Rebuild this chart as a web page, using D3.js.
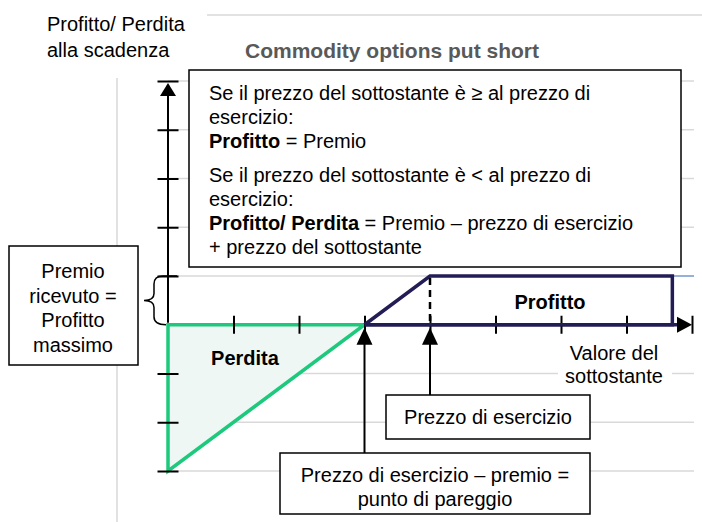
<!DOCTYPE html>
<html>
<head>
<meta charset="utf-8">
<script src="https://cdn.jsdelivr.net/npm/d3@7"></script>
<style>
  body { margin: 0; background: #fff; }
  svg text { font-family: "Liberation Sans", Arial, sans-serif; }
</style>
</head>
<body>
<svg id="chart" width="702" height="522"></svg>
<script>
// payoff of a short put: x = valore del sottostante, y = profitto/perdita
const xTicks = [1, 2, 3, 4, 5, 6, 7, 8]
const yTicks = [-3, -2, -1, 1, 2, 3, 4, 5]
const breakEven = 3
const strike = 4
const premium = 1
const profitShape = [[3, 0], [4, 1], [7.7, 1], [7.7, 0], [3, 0]]
const lossShape = [[0, 0], [3, 0], [0, -3]]

const ruleLines = [
  [{ t: 'Se il prezzo del sottostante è ≥ al prezzo di' }],
  [{ t: 'esercizio:' }],
  [{ t: 'Profitto', b: true }, { t: ' = Premio' }],
  [{ t: 'Se il prezzo del sottostante è < al prezzo di' }],
  [{ t: 'esercizio:' }],
  [{ t: 'Profitto/ Perdita', b: true }, { t: ' = Premio – prezzo di esercizio' }],
  [{ t: '+ prezzo del sottostante' }]
]
const premiumLines = ['Premio', 'ricevuto =', 'Profitto', 'massimo']
const breakEvenLines = ['Prezzo di esercizio – premio =', 'punto di pareggio']

const svg = d3.select('#chart')
const x = d3.scaleLinear().domain([0, 8]).range([168, 692])
const y = d3.scaleLinear().domain([-3, 5]).range([471, 81])
const grid = '#d9d9d9'
const navy = '#221d55'
const green = '#1dc97c'
const fs = 20

// frame lines
svg.append('line').attr('x1', 207).attr('x2', 702).attr('y1', 15).attr('y2', 15)
  .attr('stroke', grid).attr('stroke-width', 1.5)
svg.append('line').attr('x1', 117).attr('x2', 117).attr('y1', 78).attr('y2', 522)
  .attr('stroke', grid).attr('stroke-width', 1.5)

// gridlines
svg.append('g').selectAll('line').data(yTicks).join('line')
  .attr('x1', x(0)).attr('x2', 694)
  .attr('y1', d => y(d)).attr('y2', d => y(d))
  .attr('stroke', grid).attr('stroke-width', 1.5)
svg.append('line').attr('x1', x(7.7)).attr('x2', 694).attr('y1', y(premium)).attr('y2', y(premium))
  .attr('stroke', '#4a7fd0').attr('stroke-width', 1)

// x axis line (navy from break-even on)
svg.append('line').attr('x1', x(breakEven)).attr('x2', x(8) - 8).attr('y1', y(0)).attr('y2', y(0))
  .attr('stroke', navy).attr('stroke-width', 3.5)

// loss triangle
const line = d3.line().x(d => x(d[0])).y(d => y(d[1]))
svg.append('path').attr('d', line(lossShape) + 'Z')
  .attr('fill', '#eef7f3').attr('stroke', green).attr('stroke-width', 3.5)
  .attr('stroke-linejoin', 'miter')

// axes
const xAxis = d3.axisBottom(x).tickValues(xTicks).tickSize(18).tickFormat('')
svg.append('g').attr('transform', `translate(0,${y(0) - 9})`).call(xAxis)
  .call(g => g.select('.domain').remove())
  .selectAll('line').attr('stroke', '#000').attr('stroke-width', 2)
const yAxis = d3.axisLeft(y).tickValues(yTicks).tickSize(21).tickFormat('')
svg.append('g').attr('transform', `translate(${x(0) + 10.5},0)`).call(yAxis)
  .call(g => g.select('.domain').remove())
  .selectAll('line').attr('stroke', '#000').attr('stroke-width', 2)

svg.append('line').attr('x1', x(0)).attr('x2', x(0)).attr('y1', y(5) + 4).attr('y2', y(0) - 2)
  .attr('stroke', '#000').attr('stroke-width', 2)
svg.append('path')
  .attr('d', `M${x(0)},${y(5) + 2} L${x(0) - 8},${y(5) + 15} L${x(0) + 8},${y(5) + 15}Z`)
  .attr('fill', '#000')
svg.append('path')
  .attr('d', `M${x(8)},${y(0)} L${x(8) - 15},${y(0) - 8} L${x(8) - 15},${y(0) + 8}Z`)
  .attr('fill', '#000')

// profit shape
svg.append('path').attr('d', line(profitShape))
  .attr('fill', 'none').attr('stroke', navy).attr('stroke-width', 3.5)
  .attr('stroke-linejoin', 'miter')
svg.append('line').attr('x1', x(strike)).attr('x2', x(strike))
  .attr('y1', y(premium) + 2).attr('y2', y(0))
  .attr('stroke', '#000').attr('stroke-width', 2.5).attr('stroke-dasharray', '7,5')

// rule box
svg.append('rect').attr('x', 189).attr('y', 70).attr('width', 492).attr('height', 197)
  .attr('fill', '#fff').attr('stroke', '#000').attr('stroke-width', 1.5)
const ruleY = [100, 124, 148, 182, 206, 230, 254]
const rt = svg.append('g')
ruleLines.forEach((parts, i) => {
  const t = rt.append('text').attr('x', 209).attr('y', ruleY[i]).attr('font-size', fs)
  parts.forEach(p => t.append('tspan').attr('font-weight', p.b ? 'bold' : null).text(p.t))
})

// premium box and brace
svg.append('rect').attr('x', 9).attr('y', 246).attr('width', 129).attr('height', 119)
  .attr('fill', '#fff').attr('stroke', '#000').attr('stroke-width', 1.5)
svg.append('g').selectAll('text').data(premiumLines).join('text')
  .attr('x', 73).attr('y', (d, i) => 278 + i * 24.5).attr('text-anchor', 'middle')
  .attr('font-size', fs).text(d => d)
const yt = y(premium), y0 = y(0), ym = (yt + y0) / 2
svg.append('path')
  .attr('d', `M${x(0) + 9},${yt} H${x(0) - 5} Q${x(0) - 14},${yt} ${x(0) - 14},${yt + 8} V${ym - 7} Q${x(0) - 14},${ym} ${x(0) - 24},${ym} Q${x(0) - 14},${ym} ${x(0) - 14},${ym + 7} V${y0 - 8} Q${x(0) - 14},${y0} ${x(0) - 2},${y0}`)
  .attr('fill', 'none').attr('stroke', '#000').attr('stroke-width', 1.5)

// area labels
svg.append('text').attr('x', 245).attr('y', 365).attr('text-anchor', 'middle')
  .attr('font-size', 20).attr('font-weight', 'bold').text('Perdita')
svg.append('text').attr('x', 550).attr('y', 309).attr('text-anchor', 'middle')
  .attr('font-size', 20).attr('font-weight', 'bold').text('Profitto')

// x axis label on white
svg.append('rect').attr('x', 558).attr('y', 340).attr('width', 114).attr('height', 48).attr('fill', '#fff')
svg.append('g').selectAll('text').data(['Valore del', 'sottostante']).join('text')
  .attr('x', 614).attr('y', (d, i) => 360 + i * 23).attr('text-anchor', 'middle')
  .attr('font-size', fs).text(d => d)

// pointer arrows
const arrow = (xv, yBottom) => {
  svg.append('line').attr('x1', x(xv)).attr('x2', x(xv)).attr('y1', y(0) + 16).attr('y2', yBottom)
    .attr('stroke', '#000').attr('stroke-width', 2)
  svg.append('path')
    .attr('d', `M${x(xv)},${y(0) + 3} L${x(xv) - 8},${y(0) + 20} L${x(xv) + 8},${y(0) + 20}Z`)
    .attr('fill', '#000')
}
arrow(breakEven, 453)
arrow(strike, 395)

// strike box
svg.append('rect').attr('x', 386).attr('y', 395).attr('width', 204).attr('height', 44)
  .attr('fill', '#fff').attr('stroke', '#000').attr('stroke-width', 1.5)
svg.append('text').attr('x', 488).attr('y', 424).attr('text-anchor', 'middle')
  .attr('font-size', fs).text('Prezzo di esercizio')

// break-even box
svg.append('rect').attr('x', 280).attr('y', 453).attr('width', 310).attr('height', 61)
  .attr('fill', '#fff').attr('stroke', '#000').attr('stroke-width', 1.5)
svg.append('g').selectAll('text').data(breakEvenLines).join('text')
  .attr('x', 435).attr('y', (d, i) => 482 + i * 24).attr('text-anchor', 'middle')
  .attr('font-size', fs).text(d => d)

// titles
svg.append('text').attr('x', 392).attr('y', 58).attr('text-anchor', 'middle')
  .attr('font-size', 21).attr('font-weight', 'bold').attr('fill', '#595959')
  .text('Commodity options put short')
svg.append('g').selectAll('text').data(['Profitto/ Perdita', 'alla scadenza']).join('text')
  .attr('x', 47).attr('y', (d, i) => 31 + i * 26).attr('font-size', fs).text(d => d)
</script>
</body>
</html>
